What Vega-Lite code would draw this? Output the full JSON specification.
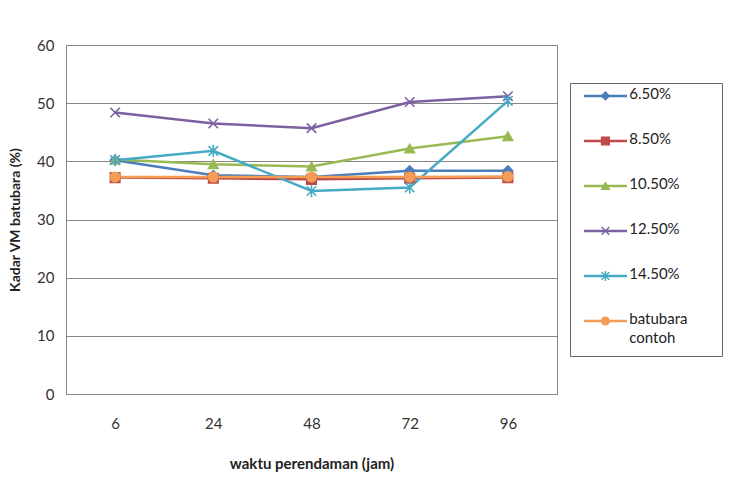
{
  "$schema": "https://vega.github.io/schema/vega-lite/v6.json",
  "padding": {"left": 8, "top": 37, "right": 5, "bottom": 5},
  "background": "white",
  "config": {
    "font": "Lato",
    "axis": {"labelFont": "Lato", "titleFont": "Lato"}
  },
  "datasets": {
    "utama": [
      {"jam": 6, "seri": "6.50%", "nilai": 40.2},
      {"jam": 24, "seri": "6.50%", "nilai": 37.6},
      {"jam": 48, "seri": "6.50%", "nilai": 37.3},
      {"jam": 72, "seri": "6.50%", "nilai": 38.4},
      {"jam": 96, "seri": "6.50%", "nilai": 38.4},
      {"jam": 6, "seri": "8.50%", "nilai": 37.2},
      {"jam": 24, "seri": "8.50%", "nilai": 37.1},
      {"jam": 48, "seri": "8.50%", "nilai": 36.9},
      {"jam": 72, "seri": "8.50%", "nilai": 37.1},
      {"jam": 96, "seri": "8.50%", "nilai": 37.2},
      {"jam": 6, "seri": "10.50%", "nilai": 40.3},
      {"jam": 24, "seri": "10.50%", "nilai": 39.5},
      {"jam": 48, "seri": "10.50%", "nilai": 39.1},
      {"jam": 72, "seri": "10.50%", "nilai": 42.2},
      {"jam": 96, "seri": "10.50%", "nilai": 44.3},
      {"jam": 6, "seri": "12.50%", "nilai": 48.4},
      {"jam": 24, "seri": "12.50%", "nilai": 46.5},
      {"jam": 48, "seri": "12.50%", "nilai": 45.7},
      {"jam": 72, "seri": "12.50%", "nilai": 50.2},
      {"jam": 96, "seri": "12.50%", "nilai": 51.2},
      {"jam": 6, "seri": "14.50%", "nilai": 40.2},
      {"jam": 24, "seri": "14.50%", "nilai": 41.8},
      {"jam": 48, "seri": "14.50%", "nilai": 34.9},
      {"jam": 72, "seri": "14.50%", "nilai": 35.5},
      {"jam": 96, "seri": "14.50%", "nilai": 50.4},
      {"jam": 6, "seri": "batubara contoh", "nilai": 37.3},
      {"jam": 24, "seri": "batubara contoh", "nilai": 37.3},
      {"jam": 48, "seri": "batubara contoh", "nilai": 37.3},
      {"jam": 72, "seri": "batubara contoh", "nilai": 37.3},
      {"jam": 96, "seri": "batubara contoh", "nilai": 37.4}
    ],
    "legenda": [
      {"seri": "6.50%", "teks": "6.50%"},
      {"seri": "8.50%", "teks": "8.50%"},
      {"seri": "10.50%", "teks": "10.50%"},
      {"seri": "12.50%", "teks": "12.50%"},
      {"seri": "14.50%", "teks": "14.50%"},
      {"seri": "batubara contoh", "teks": "batubara\ncontoh"}
    ]
  },
  "hconcat": [
    {
      "width": 491,
      "height": 349,
      "view": {"stroke": "#868686", "strokeWidth": 1},
      "data": {"name": "utama"},
      "encoding": {
        "x": {
          "field": "jam", "type": "ordinal", "sort": [6, 24, 48, 72, 96],
          "scale": {"type": "point", "padding": 0.5},
          "axis": {
            "title": "waktu perendaman (jam)", "titleFontSize": 15, "titleFontWeight": "bold",
            "titleColor": "#222", "titlePadding": 25,
            "labelAngle": 0, "labelFontSize": 15, "labelColor": "#333", "labelPadding": 22,
            "ticks": false, "domainColor": "#868686", "grid": false
          }
        },
        "y": {
          "field": "nilai", "type": "quantitative",
          "scale": {"domain": [0, 60], "nice": false},
          "axis": {
            "title": "Kadar VM batubara (%)", "titleFontSize": 14, "titleFontWeight": "bold",
            "titleColor": "#222", "titlePadding": 14,
            "values": [0, 10, 20, 30, 40, 50, 60], "labelFontSize": 15, "labelColor": "#333",
            "labelPadding": 12, "ticks": false, "domain": false,
            "grid": true, "gridColor": "#868686", "gridWidth": 1
          }
        },
        "color": {
          "field": "seri", "type": "nominal",
          "scale": {
            "domain": ["6.50%", "8.50%", "10.50%", "12.50%", "14.50%", "batubara contoh"],
            "range": ["#4A7EBB", "#BE4B48", "#98B954", "#7D60A0", "#46AAC5", "#F59D56"]
          },
          "legend": null
        }
      },
      "layer": [
        {"mark": {"type": "line", "strokeWidth": 2.5}},
        {
          "mark": {"type": "point", "filled": true, "opacity": 1, "strokeWidth": 1.6},
          "encoding": {
            "shape": {
              "field": "seri", "type": "nominal",
              "scale": {
                "domain": ["6.50%", "8.50%", "10.50%", "12.50%", "14.50%", "batubara contoh"],
                "range": ["diamond", "square", "triangle-up", "M-1,-1L1,1M-1,1L1,-1", "M-1,-1L1,1M-1,1L1,-1M0,-1.3L0,1.3", "circle"]
              },
              "legend": null
            },
            "stroke": {
              "field": "seri", "type": "nominal",
              "scale": {
                "domain": ["6.50%", "8.50%", "10.50%", "12.50%", "14.50%", "batubara contoh"],
                "range": ["#4A7EBB", "#BE4B48", "#98B954", "#7D60A0", "#46AAC5", "#F59D56"]
              },
              "legend": null
            },
            "size": {"value": 90}
          }
        }
      ]
    },
    {
      "width": 152,
      "height": 273,
      "view": {"stroke": "#666", "strokeWidth": 1},
      "data": {"name": "legenda"},
      "encoding": {
        "y": {
          "field": "seri", "type": "nominal",
          "sort": ["6.50%", "8.50%", "10.50%", "12.50%", "14.50%", "batubara contoh"],
          "scale": {"type": "point", "padding": 0.533, "align": 0.27},
          "axis": null
        },
        "color": {"field": "seri", "type": "nominal", "legend": null}
      },
      "layer": [
        {
          "mark": {"type": "rule", "strokeWidth": 2.5},
          "encoding": {
            "x": {"datum": 0.092, "type": "quantitative", "scale": {"domain": [0, 1], "nice": false}, "axis": null},
            "x2": {"datum": 0.375}
          }
        },
        {
          "mark": {"type": "point", "filled": true, "opacity": 1, "strokeWidth": 1.4},
          "encoding": {
            "x": {"datum": 0.233, "type": "quantitative"},
            "shape": {"field": "seri", "type": "nominal", "legend": null},
            "stroke": {"field": "seri", "type": "nominal", "legend": null},
            "size": {"value": 60}
          }
        },
        {
          "mark": {"type": "text", "align": "left", "baseline": "top", "dy": -9, "fontSize": 15, "color": "#222", "lineBreak": "\n", "lineHeight": 19},
          "encoding": {
            "x": {"datum": 0.39, "type": "quantitative"},
            "text": {"field": "teks"},
            "color": {"value": "#222"}
          }
        }
      ]
    }
  ],
  "spacing": 13,
  "bounds": "flush",
  "center": true
}
